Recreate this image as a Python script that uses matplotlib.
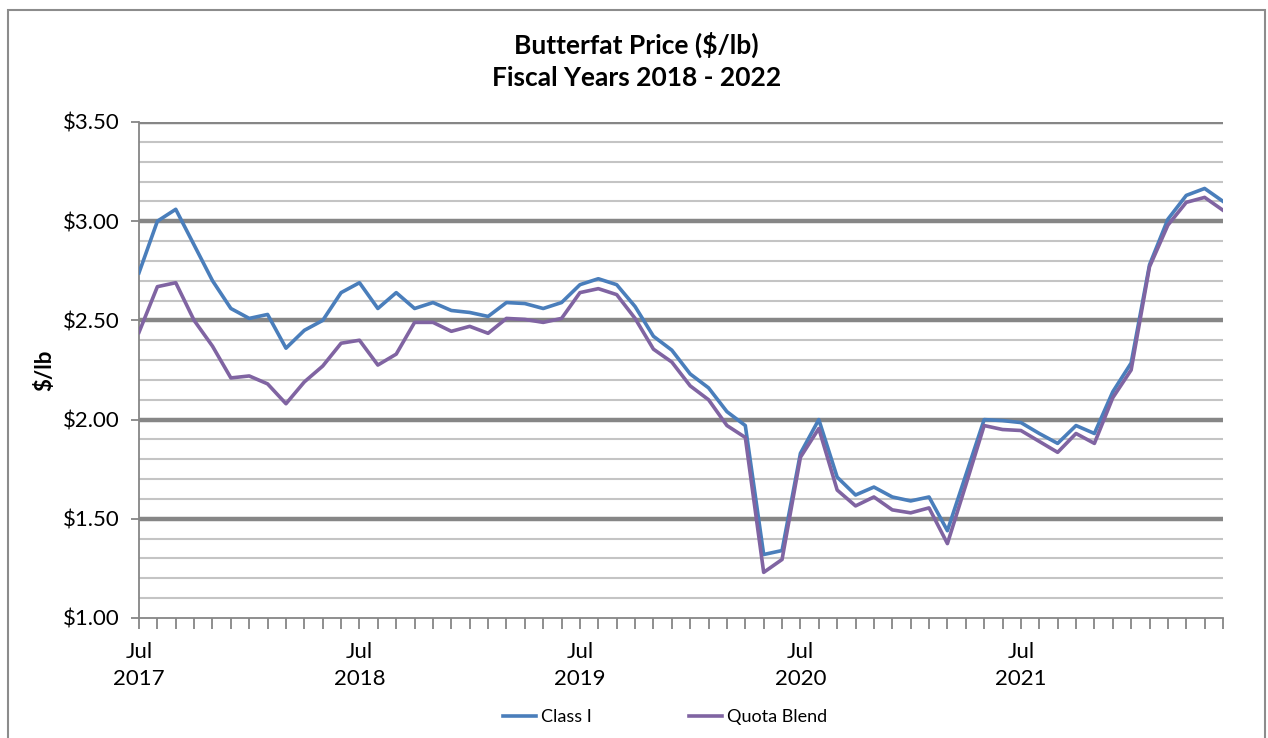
import matplotlib
matplotlib.use('Agg')
import matplotlib.pyplot as plt
from matplotlib.patches import Rectangle
import numpy as np
import pandas as pd

plt.rcParams['font.family'] = ['Lato', 'DejaVu Sans']

# monthly prices, Jul 2017 - Jun 2022
months = pd.date_range('2017-07-01', periods=60, freq='MS')
class_i = [2.74, 3.00, 3.06, 2.88, 2.70, 2.56, 2.51, 2.53, 2.36, 2.45, 2.50, 2.64,
           2.69, 2.56, 2.64, 2.56, 2.59, 2.55, 2.54, 2.52, 2.59, 2.585, 2.56, 2.59,
           2.68, 2.71, 2.68, 2.57, 2.42, 2.35, 2.23, 2.16, 2.04, 1.97, 1.32, 1.34,
           1.83, 2.00, 1.71, 1.62, 1.66, 1.61, 1.59, 1.61, 1.44, 1.72, 2.00, 1.995,
           1.985, 1.93, 1.88, 1.97, 1.93, 2.14, 2.285, 2.78, 3.01, 3.13, 3.165, 3.10]
quota_blend = [2.44, 2.67, 2.69, 2.50, 2.37, 2.21, 2.22, 2.18, 2.08, 2.19, 2.27, 2.385,
               2.40, 2.275, 2.33, 2.49, 2.49, 2.445, 2.47, 2.435, 2.51, 2.505, 2.49, 2.51,
               2.64, 2.66, 2.63, 2.51, 2.355, 2.29, 2.17, 2.10, 1.97, 1.91, 1.23, 1.295,
               1.81, 1.955, 1.645, 1.565, 1.61, 1.545, 1.53, 1.555, 1.375, 1.67, 1.97, 1.95,
               1.945, 1.89, 1.835, 1.93, 1.88, 2.11, 2.25, 2.77, 2.98, 3.095, 3.12, 3.055]
y_ticks = [1.0, 1.5, 2.0, 2.5, 3.0, 3.5]

fig = plt.figure(figsize=(12.68, 7.38), dpi=100)
ax = fig.add_axes([139/1268, 1-618/738, (1223-139)/1268, (618-122)/738])

x = np.arange(len(months))

# gridlines: light every 0.10, dark every 0.50
for v in np.arange(1.1, 3.5, 0.1):
    if abs(v*2 - round(v*2)) > 1e-6:
        ax.axhline(v, color='#c4c4c4', lw=1.5, zorder=1)
for v in y_ticks[1:]:
    ax.axhline(v, color='#868686', lw=3.2, zorder=1)

ax.plot(x, class_i, color='#4a7ebb', lw=2.6, label='Class I', zorder=3)
ax.plot(x, quota_blend, color='#8064a2', lw=2.6, label='Quota Blend', zorder=3)

ax.set_xlim(0, len(months)-1)
ax.set_ylim(1.0, 3.5)
ax.set_yticks(y_ticks)
ax.set_yticklabels(['$%.2f' % v for v in y_ticks], fontsize=16)
ax.set_xticks(x)
ax.set_xticklabels([m.strftime('%b\n%Y') if m.month == 7 else '' for m in months],
                   fontsize=16, linespacing=1.45)
ax.tick_params(axis='x', direction='out', length=8, color='#868686', width=1.3, pad=9)
ax.tick_params(axis='y', direction='out', length=6, color='#868686', width=1.3, pad=8)

for s in ['top', 'right']:
    ax.spines[s].set_visible(False)
for s in ['left', 'bottom']:
    ax.spines[s].set_color('#868686')
    ax.spines[s].set_linewidth(1.3)

fig.text(0.502, 1-45/738, 'Butterfat Price ($/lb)', ha='center', va='center',
         fontsize=19, fontweight='bold')
fig.text(0.502, 1-78/738, 'Fiscal Years 2018 - 2022', ha='center', va='center',
         fontsize=19, fontweight='bold')
fig.text(45/1268, 1-370/738, '$/lb', rotation=90, ha='center', va='center',
         fontsize=16, fontweight='bold')

fig.legend(loc='center', bbox_to_anchor=(0.5245, 1-717/738), ncol=2, frameon=False,
           fontsize=13, handlelength=1.8, handletextpad=0.28, columnspacing=5.4)

# chart border
fig.add_artist(Rectangle((8/1268, -0.05), (1265-8)/1268, 1-10/738+0.05,
                         transform=fig.transFigure, fill=False,
                         edgecolor='#8c8c8c', lw=1.5))

fig.savefig('out.png', dpi=100)
plt.close()
